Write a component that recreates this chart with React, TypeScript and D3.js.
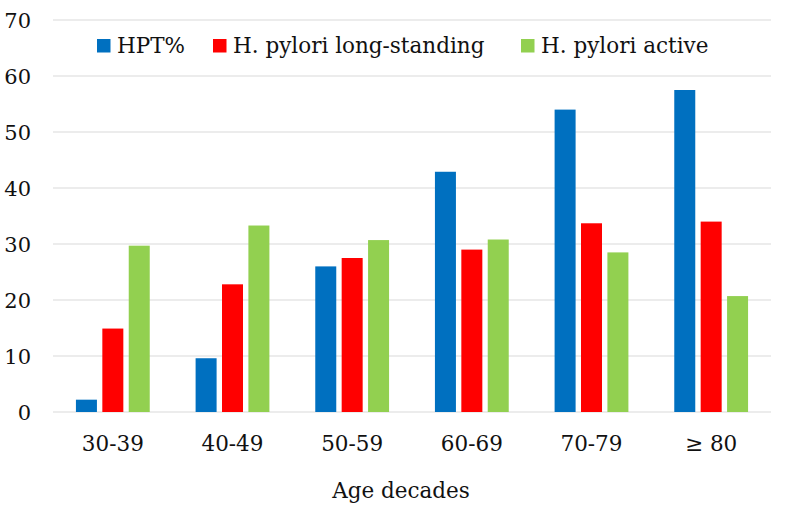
import React from "react";
import * as d3 from "d3";

const categories = ["30-39", "40-49", "50-59", "60-69", "70-79", "≥ 80"];
const seriesNames = ["HPT%", "H. pylori long-standing", "H. pylori active"];
const hpt = [2.2, 9.6, 26.0, 42.9, 54.0, 57.5];
const longStanding = [14.9, 22.8, 27.5, 29.0, 33.7, 34.0];
const active = [29.7, 33.3, 30.7, 30.8, 28.5, 20.7];
const yTicks = [0, 10, 20, 30, 40, 50, 60, 70];
const colors = ["#0070C0", "#FF0000", "#92D050"];
const xTitle = "Age decades";

const W = 788;
const H = 513;
const FONT = "'DejaVu Serif', serif";

export default function App() {
  const values = [hpt, longStanding, active];
  const x0 = d3.scaleBand<string>().domain(categories).range([53, 771]).padding(0);
  const x1 = d3
    .scaleBand<string>()
    .domain(seriesNames)
    .range([-36.9, 36.9])
    .paddingInner(0.2045)
    .paddingOuter(0);
  const y = d3.scaleLinear().domain([0, 70]).range([412, 20]);

  const legendX = [97, 213, 521];

  return (
    <svg
      width={W}
      height={H}
      style={{ position: "absolute", left: 0, top: 0, background: "#fff" }}
      fontFamily={FONT}
    >
      <rect x={0} y={0} width={W} height={H} fill="#fff" />
      {yTicks.map((t) => (
        <g key={t}>
          <line x1={53} x2={771} y1={y(t)} y2={y(t)} stroke="#d9d9d9" strokeWidth={1.2} />
          <text x={31} y={y(t)} dy="0.36em" textAnchor="end" fontSize={21} fill="#111">
            {t}
          </text>
        </g>
      ))}
      {categories.map((c, i) => {
        const cx = (x0(c) as number) + x0.bandwidth() / 2;
        return (
          <g key={c}>
            {seriesNames.map((s, j) => {
              const v = values[j][i];
              return (
                <rect
                  key={s}
                  x={cx + (x1(s) as number)}
                  y={y(v)}
                  width={x1.bandwidth()}
                  height={y(0) - y(v)}
                  fill={colors[j]}
                />
              );
            })}
            <text x={cx} y={451} textAnchor="middle" fontSize={21.5} fill="#111">
              {c}
            </text>
          </g>
        );
      })}
      <text x={401} y={498} textAnchor="middle" fontSize={21.5} fill="#111">
        {xTitle}
      </text>
      {seriesNames.map((s, j) => (
        <g key={s}>
          <rect x={legendX[j]} y={39} width={13.5} height={13.5} fill={colors[j]} />
          <text x={legendX[j] + 20} y={52.5} fontSize={21.5} fill="#111">
            {s}
          </text>
        </g>
      ))}
    </svg>
  );
}
